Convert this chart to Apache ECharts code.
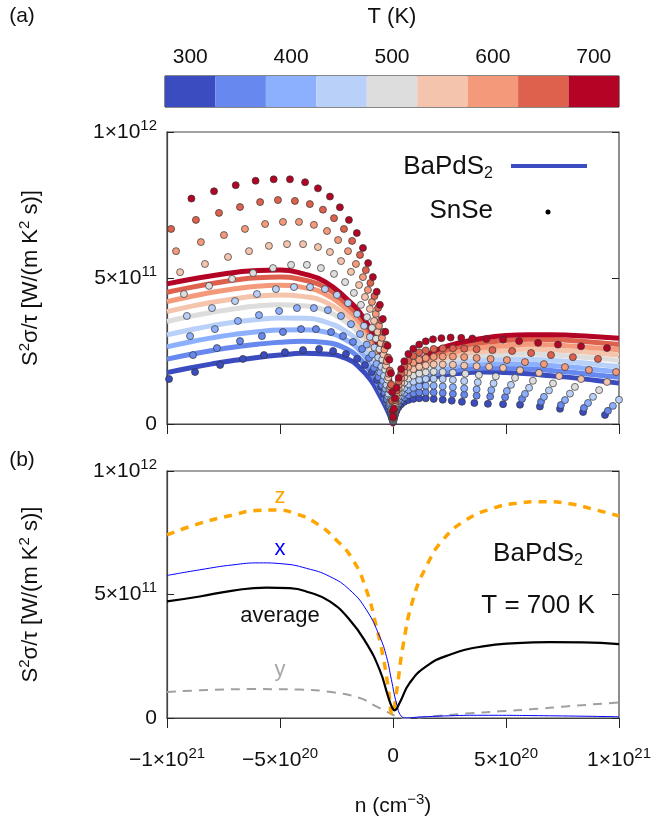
<!doctype html>
<html lang="en">
<head>
<meta charset="utf-8">
<title>BaPdS2 / SnSe power factor</title>
<script src="https://cdn.jsdelivr.net/npm/echarts@6/dist/echarts.min.js"></script>
<style>
  html, body { margin: 0; padding: 0; background: #fff; }
  #chart { width: 662px; height: 821px; }
</style>
</head>
<body>
<div id="chart"></div>
<script>
// x in units of 1e21 cm^-3, y in units of 1e12 W/(m K^2 s)
const TEMPS = [300, 350, 400, 450, 500, 550, 600, 650, 700];
const T_COLORS = ['#3b4cc0', '#6788ee', '#8db0fe', '#b9d0f9', '#dddddd', '#f5c4ac', '#f49a7b', '#de614d', '#b40426'];

const X_TICK_TEXT = {'-1': '−1×10{sup|21}', '-0.5': '−5×10{sup|20}', '0': '0', '0.5': '5×10{sup|20}', '1': '1×10{sup|21}'};
const Y_TICK_TEXT = {'0': '0', '0.5': '5×10{sup|11}', '1': '1×10{sup|12}'};

// BaPdS2 curves, panel (a)
const N_GRID = [-1, -0.9, -0.8, -0.7, -0.6, -0.5, -0.4, -0.3, -0.2, -0.15, -0.1, -0.06, -0.03, -0.01, 0,
                0.01, 0.03, 0.06, 0.1, 0.15, 0.2, 0.3, 0.4, 0.5, 0.6, 0.7, 0.8, 0.9, 1];
const bap300 = [.176,.192,.206,.218,.228,.236,.242,.240,.222,.195,.152,.100,.055,.020,0,.020,.070,.105,.130,.150,.163,.174,.178,.176,.172,.165,.158,.149,.140];
const bap350 = [.222,.238,.252,.264,.273,.280,.283,.279,.255,.226,.180,.125,.075,.032,0,.026,.077,.112,.139,.160,.174,.187,.192,.191,.189,.183,.176,.168,.160];
const bap400 = [.264,.281,.295,.307,.316,.322,.323,.315,.285,.254,.205,.148,.095,.045,0,.032,.084,.120,.148,.171,.185,.200,.206,.206,.205,.200,.194,.186,.179];
const bap450 = [.305,.322,.337,.349,.358,.363,.362,.350,.313,.280,.229,.170,.113,.058,0,.038,.091,.127,.157,.181,.196,.213,.220,.221,.222,.218,.212,.205,.197];
const bap500 = [.351,.368,.383,.395,.404,.408,.405,.389,.345,.310,.256,.193,.132,.072,0,.045,.098,.135,.165,.192,.208,.226,.234,.237,.240,.237,.231,.225,.217];
const bap550 = [.385,.402,.417,.429,.438,.442,.437,.418,.368,.331,.276,.212,.150,.086,0,.051,.104,.142,.174,.203,.220,.239,.248,.252,.257,.254,.249,.243,.236];
const bap600 = [.419,.436,.451,.463,.472,.475,.468,.445,.390,.352,.295,.230,.167,.100,0,.057,.111,.150,.183,.213,.232,.252,.262,.268,.273,.271,.266,.260,.254];
const bap650 = [.451,.467,.481,.493,.501,.503,.494,.468,.408,.369,.311,.245,.183,.115,0,.063,.118,.157,.191,.224,.244,.266,.279,.286,.290,.289,.285,.279,.272];
const bap700 = [.480,.495,.508,.519,.526,.527,.515,.487,.425,.385,.325,.260,.200,.130,0,.070,.125,.165,.200,.235,.256,.279,.294,.303,.306,.306,.303,.299,.294];
const BAP_LINES = [bap300, bap350, bap400, bap450, bap500, bap550, bap600, bap650, bap700];

// SnSe points, panel (a): [n, value]
const snse300 = [[-0.991,0.154],[-0.876,0.178],[-0.765,0.202],[-0.664,0.223],[-0.571,0.236],[-0.478,0.246],[-0.398,0.253],[-0.327,0.257],[-0.265,0.25],[-0.208,0.24],[-0.159,0.223],[-0.124,0.202],[-0.093,0.178],[-0.071,0.151],[-0.053,0.127],[-0.04,0.103],[-0.027,0.082],[-0.018,0.06],[-0.01,0.04],[-0.004,0.02],
  [0.001,0.008],[0.004,0.02],[0.009,0.033],[0.016,0.046],[0.025,0.058],[0.036,0.068],[0.05,0.076],[0.068,0.082],[0.09,0.086],[0.116,0.088],[0.145,0.088],[0.18,0.086],[0.22,0.083],[0.26,0.08],[0.305,0.076],[0.36,0.072],[0.42,0.069],[0.487,0.068],[0.562,0.066],[0.65,0.06],[0.739,0.052],[0.841,0.041],[0.938,0.031]];
const snse350 = [[-0.885,0.236],[-0.779,0.26],[-0.677,0.284],[-0.58,0.301],[-0.487,0.315],[-0.407,0.325],[-0.341,0.325],[-0.274,0.315],[-0.221,0.301],[-0.177,0.281],[-0.137,0.257],[-0.106,0.226],[-0.084,0.192],[-0.064,0.161],[-0.049,0.133],[-0.037,0.108],[-0.026,0.084],[-0.017,0.062],[-0.01,0.041],[-0.004,0.02],
  [0.001,0.01],[0.004,0.024],[0.009,0.04],[0.016,0.055],[0.025,0.069],[0.036,0.081],[0.05,0.091],[0.068,0.099],[0.09,0.105],[0.116,0.108],[0.145,0.109],[0.18,0.108],[0.22,0.106],[0.265,0.103],[0.315,0.1],[0.37,0.097],[0.43,0.094],[0.496,0.092],[0.571,0.086],[0.655,0.076],[0.743,0.065],[0.845,0.055],[0.951,0.045]];
const snse400 = [[-0.898,0.301],[-0.788,0.325],[-0.686,0.353],[-0.593,0.373],[-0.504,0.387],[-0.425,0.397],[-0.35,0.397],[-0.288,0.39],[-0.23,0.37],[-0.186,0.342],[-0.146,0.308],[-0.116,0.272],[-0.092,0.238],[-0.073,0.206],[-0.057,0.176],[-0.044,0.148],[-0.033,0.121],[-0.023,0.095],[-0.015,0.07],[-0.008,0.046],[-0.003,0.022],
  [0.001,0.012],[0.004,0.028],[0.009,0.047],[0.016,0.065],[0.025,0.081],[0.036,0.095],[0.05,0.107],[0.068,0.117],[0.09,0.124],[0.116,0.129],[0.145,0.131],[0.18,0.131],[0.22,0.129],[0.265,0.126],[0.315,0.122],[0.37,0.119],[0.435,0.116],[0.504,0.113],[0.584,0.103],[0.668,0.093],[0.761,0.082],[0.863,0.072],[0.973,0.062]];
const snse450 = [[-0.912,0.37],[-0.801,0.397],[-0.699,0.421],[-0.602,0.445],[-0.518,0.462],[-0.438,0.469],[-0.367,0.469],[-0.301,0.462],[-0.248,0.442],[-0.199,0.414],[-0.159,0.377],[-0.128,0.336],[-0.102,0.298],[-0.082,0.262],[-0.066,0.228],[-0.052,0.196],[-0.04,0.165],[-0.029,0.134],[-0.02,0.104],[-0.012,0.075],[-0.006,0.047],[-0.002,0.02],
  [0.001,0.014],[0.004,0.032],[0.009,0.054],[0.016,0.075],[0.025,0.094],[0.036,0.11],[0.05,0.124],[0.068,0.136],[0.09,0.145],[0.116,0.151],[0.145,0.154],[0.18,0.155],[0.22,0.154],[0.265,0.151],[0.315,0.147],[0.375,0.143],[0.445,0.139],[0.522,0.134],[0.602,0.124],[0.69,0.115],[0.783,0.104],[0.885,0.093],[1.0,0.083]];
const snse500 = [[-0.925,0.445],[-0.814,0.473],[-0.712,0.497],[-0.619,0.517],[-0.531,0.534],[-0.451,0.545],[-0.381,0.545],[-0.319,0.534],[-0.261,0.514],[-0.212,0.486],[-0.173,0.449],[-0.142,0.408],[-0.115,0.366],[-0.093,0.329],[-0.075,0.292],[-0.06,0.256],[-0.047,0.221],[-0.035,0.186],[-0.025,0.152],[-0.016,0.118],[-0.009,0.084],[-0.004,0.05],[-0.001,0.02],
  [0.001,0.016],[0.004,0.036],[0.009,0.061],[0.016,0.085],[0.025,0.107],[0.036,0.126],[0.05,0.142],[0.068,0.156],[0.09,0.166],[0.116,0.173],[0.145,0.177],[0.18,0.179],[0.22,0.178],[0.265,0.176],[0.32,0.172],[0.38,0.168],[0.455,0.163],[0.54,0.158],[0.619,0.148],[0.708,0.139],[0.805,0.127],[0.912,0.116]];
const snse550 = [[-0.942,0.52],[-0.832,0.548],[-0.73,0.572],[-0.637,0.592],[-0.549,0.61],[-0.469,0.616],[-0.398,0.616],[-0.332,0.606],[-0.279,0.589],[-0.23,0.558],[-0.186,0.521],[-0.15,0.476],[-0.124,0.435],[-0.102,0.394],[-0.084,0.353],[-0.068,0.315],[-0.054,0.277],[-0.042,0.238],[-0.031,0.2],[-0.021,0.16],[-0.013,0.12],[-0.006,0.078],[-0.002,0.035],
  [0.001,0.018],[0.004,0.04],[0.009,0.068],[0.016,0.095],[0.025,0.12],[0.036,0.141],[0.05,0.16],[0.068,0.176],[0.09,0.188],[0.116,0.196],[0.145,0.201],[0.18,0.204],[0.22,0.204],[0.265,0.203],[0.315,0.2],[0.37,0.198],[0.425,0.196],[0.487,0.192],[0.562,0.184],[0.646,0.175],[0.735,0.164],[0.832,0.154],[0.947,0.144]];
const snse600 = [[-0.96,0.592],[-0.85,0.623],[-0.748,0.647],[-0.655,0.668],[-0.566,0.685],[-0.487,0.692],[-0.416,0.692],[-0.35,0.682],[-0.292,0.661],[-0.243,0.63],[-0.199,0.592],[-0.164,0.548],[-0.133,0.503],[-0.111,0.459],[-0.093,0.418],[-0.076,0.377],[-0.062,0.336],[-0.049,0.295],[-0.038,0.255],[-0.028,0.215],[-0.019,0.172],[-0.011,0.128],[-0.005,0.08],[-0.001,0.03],
  [0.001,0.02],[0.004,0.044],[0.009,0.075],[0.016,0.105],[0.025,0.133],[0.036,0.157],[0.05,0.178],[0.068,0.196],[0.09,0.21],[0.116,0.22],[0.145,0.226],[0.18,0.23],[0.22,0.231],[0.265,0.231],[0.315,0.229],[0.37,0.226],[0.432,0.223],[0.504,0.219],[0.584,0.212],[0.668,0.205],[0.761,0.195],[0.867,0.185],[0.987,0.178]];
const snse650 = [[-0.982,0.668],[-0.872,0.699],[-0.77,0.723],[-0.677,0.743],[-0.588,0.76],[-0.509,0.767],[-0.434,0.764],[-0.368,0.753],[-0.31,0.734],[-0.261,0.705],[-0.217,0.668],[-0.181,0.627],[-0.146,0.579],[-0.12,0.527],[-0.1,0.483],[-0.082,0.438],[-0.066,0.397],[-0.053,0.356],[-0.042,0.315],[-0.031,0.272],[-0.022,0.228],[-0.014,0.183],[-0.008,0.135],[-0.003,0.08],[-0.001,0.03],
  [0.001,0.022],[0.004,0.048],[0.009,0.082],[0.016,0.115],[0.025,0.146],[0.036,0.173],[0.05,0.197],[0.068,0.217],[0.09,0.233],[0.116,0.245],[0.145,0.252],[0.18,0.257],[0.22,0.259],[0.265,0.259],[0.315,0.258],[0.37,0.256],[0.44,0.253],[0.527,0.25],[0.611,0.243],[0.699,0.236],[0.796,0.229],[0.907,0.223]];
const snse700 = [[-0.892,0.772],[-0.792,0.797],[-0.696,0.818],[-0.608,0.833],[-0.528,0.838],[-0.456,0.838],[-0.389,0.828],[-0.332,0.807],[-0.279,0.779],[-0.235,0.742],[-0.195,0.699],[-0.16,0.654],[-0.133,0.603],[-0.11,0.551],[-0.089,0.503],[-0.072,0.453],[-0.058,0.408],[-0.045,0.36],[-0.034,0.316],[-0.024,0.268],[-0.016,0.22],[-0.009,0.174],[-0.004,0.11],[-0.001,0.045],
  [0.001,0.024],[0.004,0.052],[0.009,0.088],[0.016,0.124],[0.025,0.158],[0.036,0.188],[0.05,0.215],[0.068,0.24],[0.09,0.258],[0.116,0.272],[0.145,0.283],[0.177,0.29],[0.214,0.294],[0.255,0.296],[0.302,0.295],[0.351,0.293],[0.413,0.291],[0.487,0.289],[0.558,0.284],[0.642,0.278],[0.73,0.272],[0.832,0.266],[0.947,0.26]];
const SNSE_POINTS = [snse300, snse350, snse400, snse450, snse500, snse550, snse600, snse650, snse700];

// panel (b), BaPdS2 at 700 K
const avg700 = [[-1,0.472],[-0.855,0.492],[-0.708,0.516],[-0.56,0.528],[-0.457,0.526],[-0.369,0.508],[-0.28,0.472],[-0.192,0.398],[-0.118,0.303],[-0.059,0.195],[-0.022,0.088],[-0.005,0.045],[0.007,0.031],[0.029,0.061],[0.074,0.142],[0.147,0.209],[0.251,0.256],[0.398,0.29],[0.546,0.303],[0.693,0.307],[0.841,0.306],[1,0.299]];
const x700 = [[-1,0.577],[-0.855,0.6],[-0.708,0.62],[-0.59,0.628],[-0.487,0.624],[-0.383,0.606],[-0.28,0.573],[-0.192,0.519],[-0.118,0.438],[-0.059,0.33],[-0.029,0.249],[-0.007,0.155],[0.015,0.061],[0.037,0.007],[0.059,0],[0.103,0.003],[0.251,0.009],[0.398,0.011],[0.693,0.009],[1,0.005]];
const y700 = [[-1,0.105],[-0.855,0.112],[-0.634,0.117],[-0.413,0.115],[-0.265,0.104],[-0.147,0.081],[-0.074,0.047],[-0.029,0.027],[0.015,0.007],[0.059,0],[0.177,0.007],[0.324,0.018],[0.472,0.027],[0.619,0.036],[0.767,0.047],[1,0.063]];
const z700 = [[-1,0.741],[-0.855,0.788],[-0.708,0.822],[-0.605,0.84],[-0.516,0.842],[-0.428,0.826],[-0.339,0.788],[-0.251,0.721],[-0.177,0.64],[-0.118,0.519],[-0.074,0.371],[-0.044,0.249],[-0.022,0.128],[-0.003,0.013],[0.015,0.101],[0.044,0.29],[0.088,0.478],[0.147,0.613],[0.221,0.721],[0.324,0.802],[0.442,0.849],[0.546,0.869],[0.664,0.876],[0.782,0.867],[0.9,0.842],[1,0.818]];

const FONT = 'Liberation Sans';
const TXT = '#111';
const rich = {
  sup: {fontSize: 15, fontFamily: FONT, color: TXT, padding: [0, 0, 13, 0]},
  sub: {fontSize: 16, fontFamily: FONT, color: TXT, padding: [13, 0, 0, 0]}
};

function xAxisFor(grid, showLabels) {
  return {
    type: 'value', gridIndex: grid, min: -1, max: 1, interval: 0.5,
    axisLine: {show: true, onZero: false, lineStyle: {color: '#444', width: 1.2}},
    axisTick: {show: true, inside: false, length: 10, lineStyle: {color: '#222'}},
    splitLine: {show: false},
    axisLabel: {
      show: showLabels, margin: 28, fontSize: 21, fontFamily: FONT, color: TXT, rich: rich,
      formatter: v => X_TICK_TEXT[String(v)]
    },
    name: showLabels ? 'n (cm{sup|−3})' : '', nameLocation: 'middle', nameGap: 74,
    nameTextStyle: {fontSize: 21, fontFamily: FONT, color: TXT, rich: rich}
  };
}

function yAxisFor(grid) {
  return {
    type: 'value', gridIndex: grid, min: 0, max: 1, interval: 0.5,
    axisLine: {show: true, onZero: false, lineStyle: {color: '#444', width: 1.2}},
    axisTick: {show: true, inside: true, length: 7, lineStyle: {color: '#222'}},
    splitLine: {show: false},
    axisLabel: {
      margin: 10, fontSize: 21, fontFamily: FONT, color: TXT, rich: rich,
      formatter: v => Y_TICK_TEXT[String(v)]
    },
    name: 'S{sup|2}σ/τ [W/(m K{sup|2} s)]', nameLocation: 'middle', nameRotate: 90, nameGap: 122,
    nameTextStyle: {fontSize: 22, fontFamily: FONT, color: TXT, rich: rich}
  };
}

function yMirror(grid) {
  return {
    type: 'value', gridIndex: grid, min: 0, max: 1, interval: 0.5, position: 'right',
    axisLine: {show: false, onZero: false}, axisLabel: {show: false}, splitLine: {show: false},
    axisTick: {show: true, inside: true, length: 7, lineStyle: {color: '#222'}}
  };
}

const series = [];
// colour bar
series.push({
  type: 'bar', xAxisIndex: 2, yAxisIndex: 4, barWidth: '100%', silent: true,
  data: TEMPS.map((t, i) => ({value: 1, itemStyle: {color: T_COLORS[i]}}))
});
BAP_LINES.forEach((vals, i) => {
  series.push({
    type: 'line', xAxisIndex: 0, yAxisIndex: 0, showSymbol: false, smooth: 0.5,
    lineStyle: {color: T_COLORS[i], width: 5}, z: 2,
    data: N_GRID.map((n, k) => [n, vals[k]])
  });
});
SNSE_POINTS.forEach((pts, i) => {
  series.push({
    type: 'scatter', xAxisIndex: 0, yAxisIndex: 0, symbolSize: 7, z: 3,
    itemStyle: {color: T_COLORS[i], borderColor: '#333', borderWidth: 0.7, opacity: 1},
    data: pts
  });
});
const bLines = [
  {data: y700, color: '#a0a0a0', width: 2, type: [9, 7]},
  {data: z700, color: '#ffa500', width: 3.5, type: [8, 7]},
  {data: x700, color: '#0000ff', width: 1, type: 'solid'},
  {data: avg700, color: '#000000', width: 2.2, type: 'solid'}
];
bLines.forEach(b => {
  series.push({
    type: 'line', xAxisIndex: 1, yAxisIndex: 2, showSymbol: false, smooth: 0.5,
    lineStyle: {color: b.color, width: b.width, type: b.type}, data: b.data
  });
});

const txt = (x, y, text, size, color, align) => ({
  type: 'text', x: x, y: y, z: 100,
  style: {text: text, fontSize: size, fontFamily: FONT, fill: color || TXT,
          align: align || 'center', verticalAlign: 'middle', rich: rich}
});

const option = {
  animation: false,
  backgroundColor: '#fff',
  grid: [
    {left: 167, top: 132, width: 452, height: 292, show: true, borderColor: '#444', borderWidth: 1.2, backgroundColor: 'transparent'},
    {left: 167, top: 471, width: 452, height: 247, show: true, borderColor: '#444', borderWidth: 1.2, backgroundColor: 'transparent'},
    {left: 165, top: 76, width: 454, height: 31, show: true, borderColor: '#111', borderWidth: 1}
  ],
  xAxis: [
    xAxisFor(0, false),
    xAxisFor(1, true),
    {
      type: 'category', gridIndex: 2, position: 'top', data: TEMPS.map(String),
      axisLine: {show: false},
      axisTick: {show: true, alignWithLabel: true, interval: 1, length: 5, lineStyle: {color: '#222'}},
      axisLabel: {interval: 1, margin: 8, fontSize: 21, fontFamily: FONT, color: TXT}
    }
  ],
  yAxis: [
    yAxisFor(0), yMirror(0),
    yAxisFor(1), yMirror(1),
    {type: 'value', gridIndex: 2, min: 0, max: 1, show: false}
  ],
  graphic: [
    txt(22, 16, '(a)', 21),
    txt(392, 17, 'T (K)', 22),
    txt(22, 460, '(b)', 21),
    // legend of panel (a)
    txt(493, 167, 'BaPdS{sub|2}', 26, TXT, 'right'),
    {type: 'line', z: 100, shape: {x1: 511, y1: 166, x2: 587, y2: 166}, style: {stroke: T_COLORS[0], lineWidth: 4}},
    txt(493, 211, 'SnSe', 26, TXT, 'right'),
    {type: 'circle', z: 100, shape: {cx: 548, cy: 212, r: 2.5}, style: {fill: '#000'}},
    // annotations of panel (b)
    txt(280, 497, 'z', 22, '#ffa500'),
    txt(280, 549, 'x', 22, '#0000ff'),
    txt(280, 616, 'average', 22, TXT),
    txt(280, 670, 'y', 22, '#a8a8a8'),
    txt(538, 554, 'BaPdS{sub|2}', 26, TXT),
    txt(538, 606, 'T = 700 K', 26, TXT)
  ],
  series: series
};

const chart = echarts.init(document.getElementById('chart'));
chart.setOption(option);
</script>
</body>
</html>
